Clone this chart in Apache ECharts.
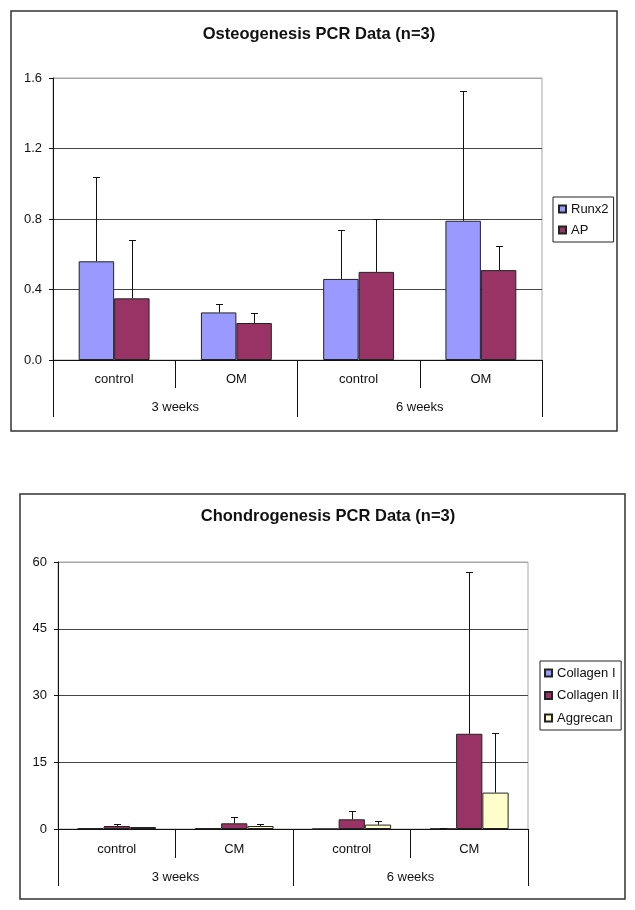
<!DOCTYPE html>
<html><head><meta charset="utf-8">
<script src="https://cdn.jsdelivr.net/npm/echarts@6/dist/echarts.min.js"></script>
<style>html,body{margin:0;padding:0;background:#fff}#c{width:635px;height:910px}</style>
</head><body><div id="c"></div>
<script>
// ---- Data: Osteogenesis ----
const osteoCategories = ['control', 'OM', 'control', 'OM'];
const osteoGroups = ['3 weeks', '6 weeks'];
const runx2 = [0.56, 0.27, 0.46, 0.79];
const runx2Err = [0.48, 0.05, 0.28, 0.735];
const ap = [0.35, 0.21, 0.50, 0.51];
const apErr = [0.33, 0.056, 0.30, 0.135];
const osteoTicks = [0, 0.4, 0.8, 1.2, 1.6];

// ---- Data: Chondrogenesis ----
const chondroCategories = ['control', 'CM', 'control', 'CM'];
const chondroGroups = ['3 weeks', '6 weeks'];
const collagen1 = [0.15, 0.15, 0, 0.05];
const collagen1Err = [0, 0, 0, 0.25];
const collagen2 = [0.67, 1.28, 2.18, 21.4];
const collagen2Err = [0.53, 1.42, 1.95, 36.3];
const aggrecan = [0.45, 0.67, 0.99, 8.18];
const aggrecanErr = [0, 0.53, 0.9, 13.5];
const chondroTicks = [0, 15, 30, 45, 60];

const FONT = '"Liberation Sans", Arial, sans-serif';
const TXT = '#111';
const chart = echarts.init(document.getElementById('c'));

function errSeries(name, xIdx, yIdx, values, errs, si, n, gapFrac) {
  return {
    type: 'custom', name: name, xAxisIndex: xIdx, yAxisIndex: yIdx, z: 5, silent: true,
    data: values.map((v, i) => [i, v, errs[i]]),
    encode: { x: 0, y: 1 },
    renderItem: function (params, api) {
      const ci = api.value(0), v = api.value(1), e = api.value(2);
      if (!e) return { type: 'group', children: [] };
      const p0 = api.coord([ci, v]), p1 = api.coord([ci, v + e]);
      const band = api.size([1, 0])[0];
      const total = band * (1 - gapFrac);
      const bw = total / n;
      const x = Math.round(p0[0] - total / 2 + (si + 0.5) * bw) + 0.5;
      const yT = Math.round(p1[1]) + 0.5;
      return { type: 'group', children: [
        { type: 'line', shape: { x1: x, y1: p0[1], x2: x, y2: yT }, style: { stroke: '#111', lineWidth: 1 } },
        { type: 'line', shape: { x1: x - 3.5, y1: yT, x2: x + 3.5, y2: yT }, style: { stroke: '#111', lineWidth: 1 } }
      ] };
    }
  };
}

function catAxis(gridIndex, data, tickLen, margin, showLine) {
  return {
    type: 'category', gridIndex: gridIndex, data: data, position: 'bottom',
    axisLine: { show: showLine, lineStyle: { color: '#111', width: 1 } },
    axisTick: { show: true, length: tickLen, lineStyle: { color: '#111', width: 1 } },
    axisLabel: { margin: margin, fontSize: 13, color: TXT, fontFamily: FONT },
    splitLine: { show: false }
  };
}

function valAxis(gridIndex, ticks, fmt) {
  return {
    type: 'value', gridIndex: gridIndex,
    min: ticks[0], max: ticks[ticks.length - 1], interval: ticks[1] - ticks[0],
    axisLine: { show: true, lineStyle: { color: '#111', width: 1 } },
    axisTick: { show: true, length: 4, lineStyle: { color: '#111' } },
    axisLabel: { margin: 11, fontSize: 13, color: TXT, fontFamily: FONT, formatter: fmt },
    splitLine: { show: true, lineStyle: { color: ['#444', '#444', '#444', '#444', '#a8a8a8'], width: 1 } }
  };
}

const GAP1 = 0.42, GAP2 = 0.33;
const barStyle = c => ({ color: c, borderColor: '#222', borderWidth: 1 });

chart.setOption({
  animation: false,
  backgroundColor: '#fff',
  title: [
    { text: 'Osteogenesis PCR Data (n=3)', left: 314, top: 21, textAlign: 'center',
      textStyle: { fontSize: 16.5, fontWeight: 'bold', color: TXT, fontFamily: FONT } },
    { text: 'Chondrogenesis PCR Data (n=3)', left: 323, top: 503, textAlign: 'center',
      textStyle: { fontSize: 16.5, fontWeight: 'bold', color: TXT, fontFamily: FONT } }
  ],
  legend: [
    { orient: 'vertical', left: 553, top: 197, data: ['Runx2', 'AP'], icon: 'rect',
      itemWidth: 7, itemHeight: 7, itemGap: 7, padding: [5, 5, 5, 5],
      borderColor: '#222', borderWidth: 1, backgroundColor: '#fff',
      textStyle: { fontSize: 13, color: TXT, fontFamily: FONT, lineHeight: 14 } },
    { orient: 'vertical', left: 540, top: 661, data: ['Collagen I', 'Collagen II', 'Aggrecan'], icon: 'rect',
      itemWidth: 7, itemHeight: 7, itemGap: 8.5, padding: [5, 2, 5, 4],
      borderColor: '#222', borderWidth: 1, backgroundColor: '#fff',
      textStyle: { fontSize: 13, color: TXT, fontFamily: FONT, lineHeight: 14 } }
  ],
  grid: [
    { left: 53, top: 78, width: 489, height: 282, show: true, borderColor: '#a8a8a8', borderWidth: 1, backgroundColor: '#fff' },
    { left: 58, top: 562, width: 470, height: 267, show: true, borderColor: '#a8a8a8', borderWidth: 1, backgroundColor: '#fff' }
  ],
  xAxis: [
    catAxis(0, osteoCategories, 28, 13, true),
    catAxis(0, osteoGroups, 57, 41, false),
    catAxis(1, chondroCategories, 29, 14, true),
    catAxis(1, chondroGroups, 57, 42, false)
  ],
  yAxis: [
    valAxis(0, osteoTicks, v => v.toFixed(1)),
    valAxis(1, chondroTicks, v => String(v))
  ],
  series: [
    { type: 'bar', name: 'Runx2', xAxisIndex: 0, yAxisIndex: 0, data: runx2, barGap: '0%', barCategoryGap: (GAP1 * 100) + '%', itemStyle: barStyle('#9999FF') },
    { type: 'bar', name: 'AP', xAxisIndex: 0, yAxisIndex: 0, data: ap, barGap: '0%', barCategoryGap: (GAP1 * 100) + '%', itemStyle: barStyle('#993366') },
    errSeries('Runx2 err', 0, 0, runx2, runx2Err, 0, 2, GAP1),
    errSeries('AP err', 0, 0, ap, apErr, 1, 2, GAP1),
    { type: 'bar', name: 'Collagen I', xAxisIndex: 2, yAxisIndex: 1, data: collagen1, barGap: '0%', barCategoryGap: (GAP2 * 100) + '%', itemStyle: barStyle('#9999FF') },
    { type: 'bar', name: 'Collagen II', xAxisIndex: 2, yAxisIndex: 1, data: collagen2, barGap: '0%', barCategoryGap: (GAP2 * 100) + '%', itemStyle: barStyle('#993366') },
    { type: 'bar', name: 'Aggrecan', xAxisIndex: 2, yAxisIndex: 1, data: aggrecan, barGap: '0%', barCategoryGap: (GAP2 * 100) + '%', itemStyle: barStyle('#FFFFCC') },
    errSeries('Collagen I err', 2, 1, collagen1, collagen1Err, 0, 3, GAP2),
    errSeries('Collagen II err', 2, 1, collagen2, collagen2Err, 1, 3, GAP2),
    errSeries('Aggrecan err', 2, 1, aggrecan, aggrecanErr, 2, 3, GAP2)
  ],
  graphic: [
    { type: 'rect', silent: true, z: -1, shape: { x: 11, y: 11, width: 606, height: 420 }, style: { fill: 'none', stroke: '#333', lineWidth: 1.5 } },
    { type: 'rect', silent: true, z: -1, shape: { x: 20, y: 494, width: 605, height: 405 }, style: { fill: 'none', stroke: '#333', lineWidth: 1.5 } }
  ]
});
</script>
</body></html>
